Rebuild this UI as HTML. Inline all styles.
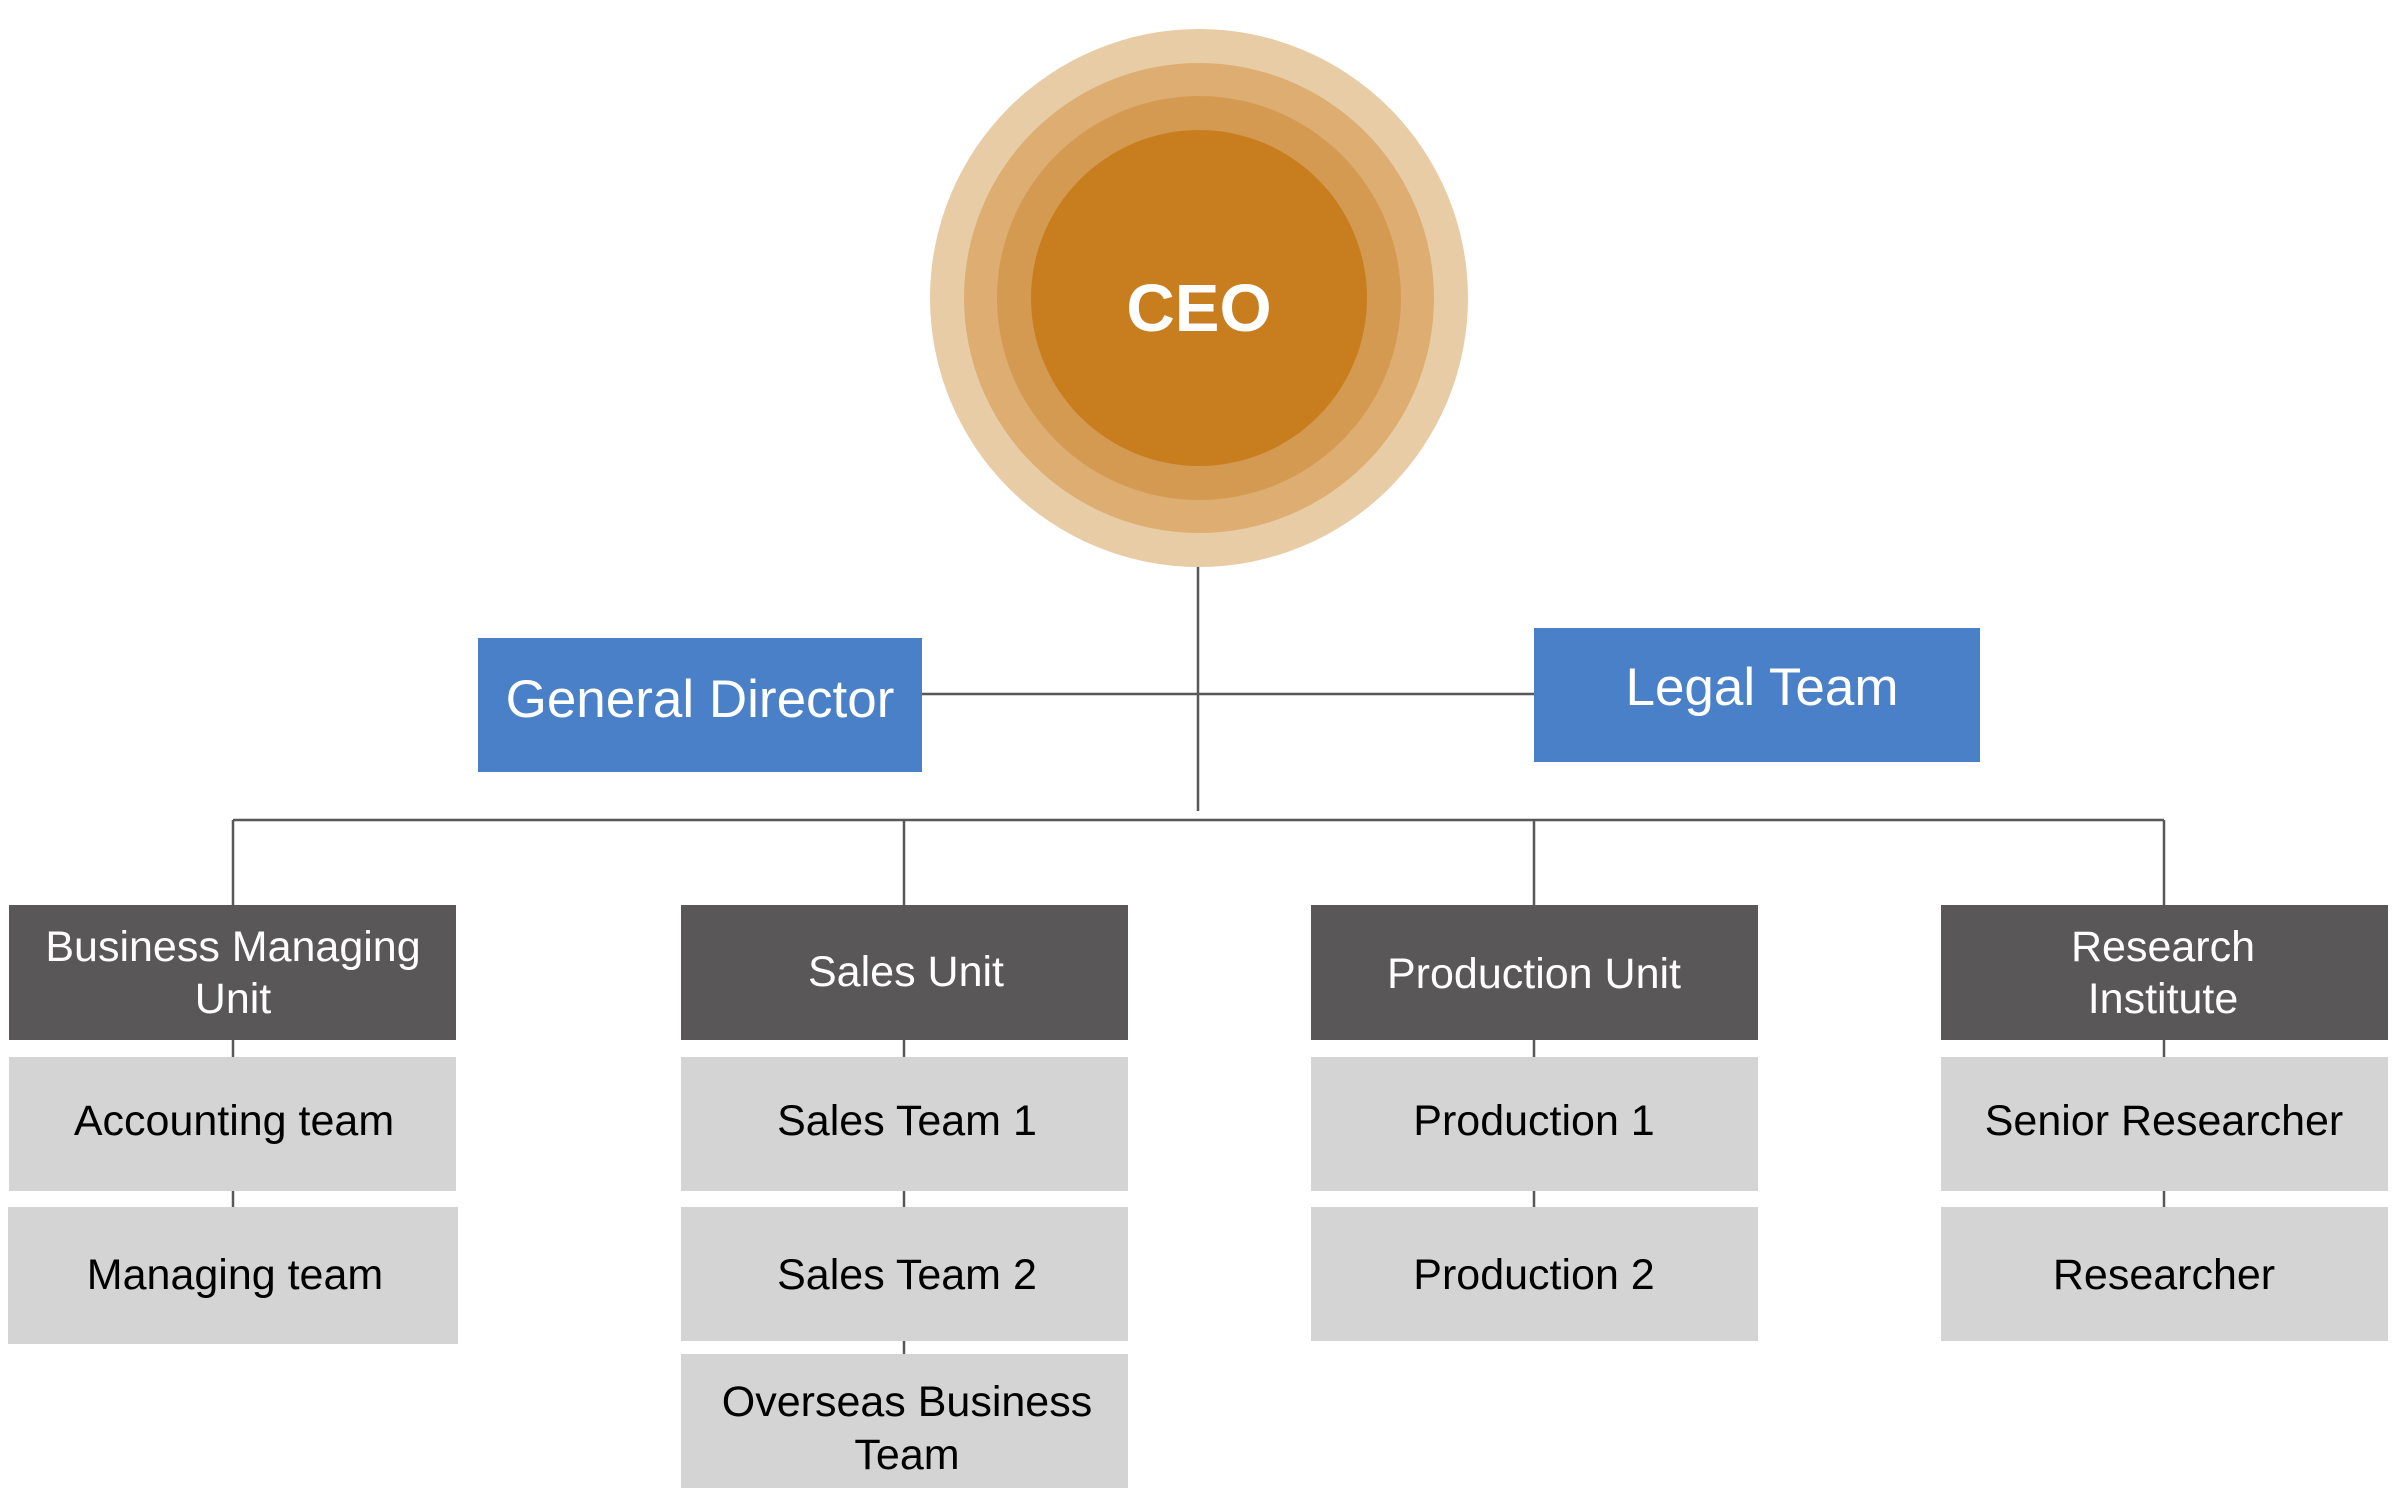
<!DOCTYPE html>
<html><head><meta charset="utf-8"><style>
html,body{margin:0;padding:0;background:#fff;}
svg{display:block;}
text{font-family:"Liberation Sans",Arial,sans-serif;}
</style></head><body>
<svg width="2401" height="1512" viewBox="0 0 2401 1512" xmlns="http://www.w3.org/2000/svg">
<rect width="2401" height="1512" fill="#fff"/>
<g stroke="#595757" stroke-width="2.5" fill="none">
<line x1="1198" y1="560" x2="1198" y2="811"/>
<line x1="910" y1="694" x2="1540" y2="694"/>
<line x1="233" y1="820" x2="2164" y2="820"/>
<line x1="233" y1="820" x2="233" y2="1340"/>
<line x1="904" y1="820" x2="904" y2="1485"/>
<line x1="1534" y1="820" x2="1534" y2="1338"/>
<line x1="2164" y1="820" x2="2164" y2="1338"/>
</g>
<circle cx="1199" cy="298" r="269" fill="#e8cca6"/>
<circle cx="1199" cy="298" r="235" fill="#ddad72"/>
<circle cx="1199" cy="298" r="202" fill="#d49a51"/>
<circle cx="1199" cy="298" r="168" fill="#c87e1f"/>
<text x="1199" y="331" text-anchor="middle" font-size="67" font-weight="bold" fill="#fff">CEO</text>
<rect x="478" y="638" width="444" height="134" fill="#4a80c8"/>
<text x="700" y="717" text-anchor="middle" font-size="53" fill="#fff">General Director</text>
<rect x="1534" y="628" width="446" height="134" fill="#4a80c8"/>
<text x="1762" y="705" text-anchor="middle" font-size="53" fill="#fff">Legal Team</text>
<g fill="#595757">
<rect x="9" y="905" width="447" height="135"/>
<rect x="681" y="905" width="447" height="135"/>
<rect x="1311" y="905" width="447" height="135"/>
<rect x="1941" y="905" width="447" height="135"/>
</g>
<g fill="#d4d4d4">
<rect x="9" y="1057" width="447" height="134"/>
<rect x="8" y="1207" width="450" height="137"/>
<rect x="681" y="1057" width="447" height="134"/>
<rect x="681" y="1207" width="447" height="134"/>
<rect x="681" y="1354" width="447" height="134"/>
<rect x="1311" y="1057" width="447" height="134"/>
<rect x="1311" y="1207" width="447" height="134"/>
<rect x="1941" y="1057" width="447" height="134"/>
<rect x="1941" y="1207" width="447" height="134"/>
</g>
<g font-size="43" text-anchor="middle" fill="#fff">
<text x="233" y="961">Business Managing</text>
<text x="233" y="1013">Unit</text>
<text x="906" y="986">Sales Unit</text>
<text x="1534" y="988">Production Unit</text>
<text x="2163" y="961">Research</text>
<text x="2163" y="1013">Institute</text>
</g>
<g font-size="43" text-anchor="middle" fill="#000">
<text x="234" y="1135">Accounting team</text>
<text x="235" y="1289">Managing team</text>
<text x="907" y="1135">Sales Team 1</text>
<text x="907" y="1289">Sales Team 2</text>
<text x="907" y="1416">Overseas Business</text>
<text x="907" y="1469">Team</text>
<text x="1534" y="1135">Production 1</text>
<text x="1534" y="1289">Production 2</text>
<text x="2164" y="1135">Senior Researcher</text>
<text x="2164" y="1289">Researcher</text>
</g>
</svg>
</body></html>
